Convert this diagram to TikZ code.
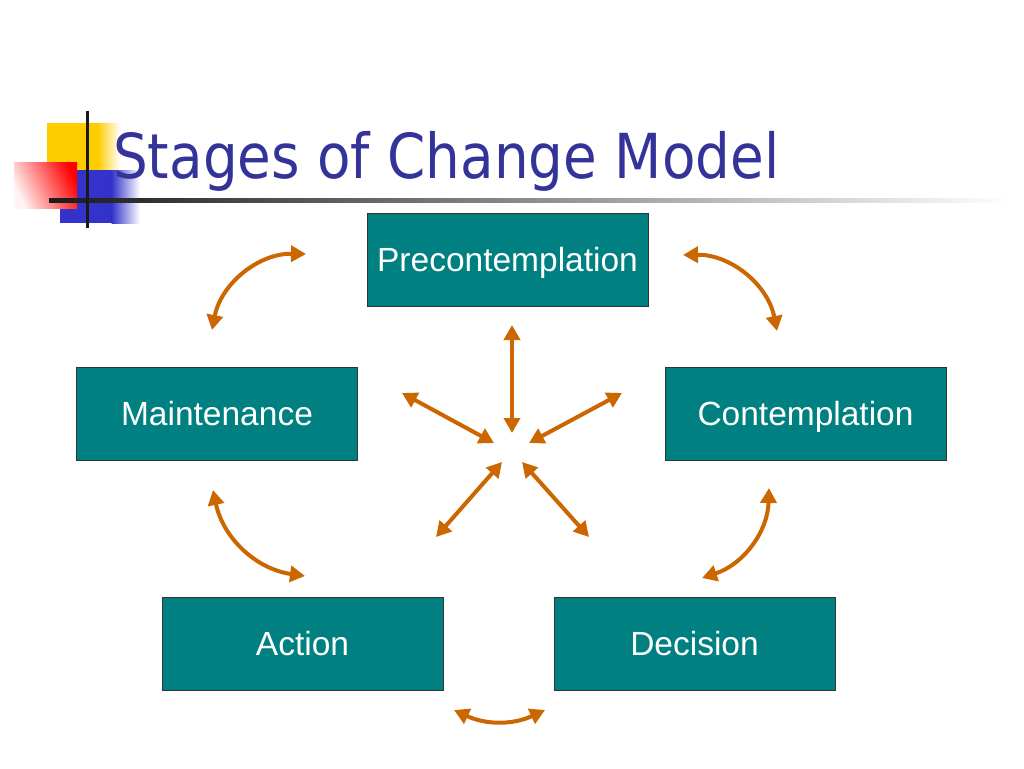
\documentclass[tikz,border=0pt]{standalone}
\usepackage{fontspec}
\setmainfont{Liberation Sans}
\newfontfamily\titlefont{DejaVu Sans}
\usetikzlibrary{arrows.meta}
\definecolor{tealbox}{HTML}{008080}
\definecolor{arrowc}{HTML}{CC6600}
\definecolor{titleblue}{HTML}{333399}
\definecolor{decoyellow}{HTML}{FFCC00}
\definecolor{decoblue}{HTML}{3333CC}
\begin{document}
\begin{tikzpicture}[x=1pt,y=-1pt,
  stage/.style={draw=black!80, fill=tealbox, text=white, line width=1pt,
    minimum width=281pt, minimum height=93pt, inner sep=0pt,
    text height=24pt, text depth=0pt,
    font=\fontsize{33.5}{40}\selectfont},
  link/.style={draw=arrowc, line width=4pt,
    {Triangle[length=15pt,width=16pt]}-{Triangle[length=15pt,width=16pt]}}]
\useasboundingbox (0,0) rectangle (1024,768);
\fill[white] (0,0) rectangle (1024,768);
% decoration
\fill[decoyellow] (47,123) rectangle (98,172);
\shade[left color=decoyellow, right color=white] (97.5,123) rectangle (120,172);
\fill[decoblue] (60,170) rectangle (112,223);
\shade[left color=decoblue, right color=white] (111.5,170) rectangle (140,223);
\shade[top color=red, bottom color=red!4, shading angle=-65] (14,162) rectangle (77,208);
\shade[left color=black!90, middle color=black!50, right color=white] (49,198.5) rectangle (1010,202.5);
\fill[black!90] (85.5,111) rectangle (88.5,228);
% title
\node[inner sep=0pt, anchor=base west, text=titleblue] (title) at (113,178)
  {\resizebox{666pt}{\height}{\titlefont\fontsize{62}{70}\selectfont Stages of Change Model}};
% stages
\node[stage] (pre) at (507.5,259.5) {Precontemplation};
\node[stage] (main) at (217,413.5) {Maintenance};
\node[stage] (cont) at (805.5,413.5) {Contemplation};
\node[stage] (act) at (302.5,643.5) {Action};
\node[stage] (dec) at (694.5,643.5) {Decision};
% arrow end points
\coordinate (tlA) at (306,254); \coordinate (tlB) at (212,330);
\coordinate (trA) at (683,255); \coordinate (trB) at (777,331);
\coordinate (rA) at (769,488);  \coordinate (rB) at (702,578);
\coordinate (lA) at (213,490);  \coordinate (lB) at (305,576);
\coordinate (bA) at (454,710);  \coordinate (bB) at (545,710);
\coordinate (vA) at (512,325);  \coordinate (vB) at (512,433);
\coordinate (ulA) at (402,393); \coordinate (ulB) at (494,443);
\coordinate (urA) at (622,393); \coordinate (urB) at (529,443);
\coordinate (llA) at (502,462); \coordinate (llB) at (436,537);
\coordinate (lrA) at (522,462); \coordinate (lrB) at (589,537);
% curved arrows
\draw[link] (tlA) to[bend right=40] (tlB);
\draw[link] (trA) to[bend left=40] (trB);
\draw[link] (rA) to[bend left=35] (rB);
\draw[link] (lA) to[bend right=35] (lB);
\draw[link] (bA) to[bend right=25] (bB);
% star arrows
\draw[link] (vA) -- (vB);
\draw[link] (ulA) -- (ulB);
\draw[link] (urA) -- (urB);
\draw[link] (llA) -- (llB);
\draw[link] (lrA) -- (lrB);
\end{tikzpicture}
\end{document}
